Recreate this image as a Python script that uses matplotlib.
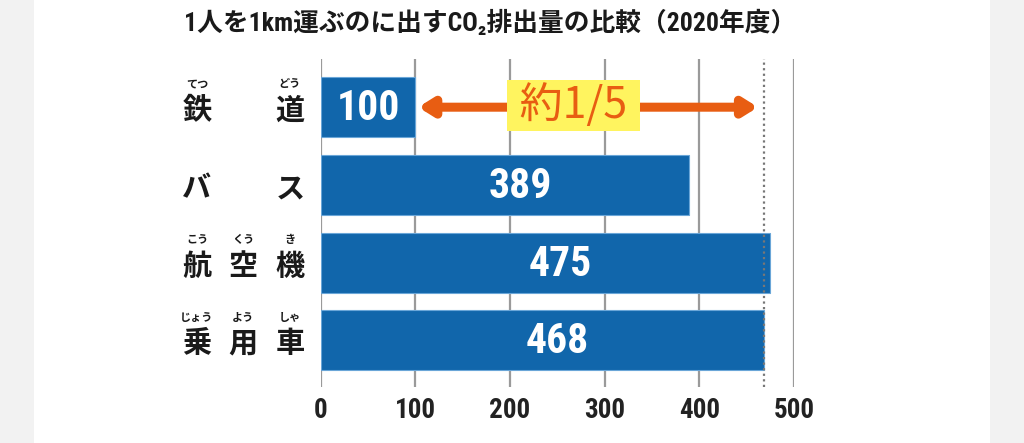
import matplotlib
matplotlib.use("Agg")
import matplotlib.pyplot as plt
from matplotlib.patches import Rectangle
import matplotlib.transforms as mtransforms

# ---- data ----
categories = ["鉄道", "バス", "航空機", "乗用車"]
values = [100, 389, 475, 468]
label_chars = [["鉄", "", "道"], ["バ", "", "ス"], ["航", "空", "機"], ["乗", "用", "車"]]
furigana = [["てつ", "", "どう"], ["", "", ""], ["こう", "くう", "き"], ["じょう", "よう", "しゃ"]]
xticks = [0, 100, 200, 300, 400, 500]
title = "1人を1km運ぶのに出すCO₂排出量の比較（2020年度）"
ratio_text = "約1/5"

NUM_FONT = ["Roboto Condensed", "IBM Plex Sans Condensed", "DejaVu Sans"]
JP_FONT = ["Noto Sans CJK JP", "DejaVu Sans"]
MIX_FONT = ["Roboto Condensed", "IBM Plex Sans Condensed", "Noto Sans CJK JP", "DejaVu Sans"]

W, H = 1024, 443
fig = plt.figure(figsize=(W / 100, H / 100), dpi=100)
fig.patch.set_facecolor("#f2f2f2")
fig.patches.append(Rectangle((34 / W, 0), (990 - 34) / W, 1, transform=fig.transFigure,
                             facecolor="white", edgecolor="none", zorder=-10))

ax_l, ax_r = 320.7, 794
ax_t, ax_b = 59, 387
ax = fig.add_axes([ax_l / W, 1 - ax_b / H, (ax_r - ax_l) / W, (ax_b - ax_t) / H])
ax.set_zorder(2)
ax.set_facecolor("none")
ax.set_xlim(0, 500)
ax.set_ylim(3.6, -0.62)
for s in ax.spines.values():
    s.set_visible(False)

for t in xticks:
    ax.axvline(t, color="#9a9a9a", lw=1.6, zorder=1)

ypos = list(range(len(categories)))
ax.barh(ypos, values, height=0.77, color="#1166ab", edgecolor="#6aa6d8",
        linewidth=0.8, zorder=3)

# dotted reference line at 乗用車 value
ax.axvline(values[3], color="#777777", lw=1.6, ls=(0, (1, 1.5)), zorder=4)

ax.set_yticks([])
ax.set_xticks(xticks)
ax.set_xticklabels([str(t) for t in xticks], fontfamily=NUM_FONT, fontsize=19.5,
                   fontweight="bold", color="#222222")
ax.tick_params(axis="x", length=0, pad=7)

# value labels
for y, v in zip(ypos, values):
    xoff = 0 if v < 200 else 16
    ax.text(v / 2 + xoff, y + 0.02, str(v), ha="center", va="center", color="white",
            fontfamily=NUM_FONT, fontsize=30, fontweight="bold", zorder=5)

# category labels with furigana
bt = mtransforms.blended_transform_factory(fig.transFigure, ax.transData)
col_x = [197, 243, 290]
for y, chars, rubies in zip(ypos, label_chars, furigana):
    for cx, ch, rb in zip(col_x, chars, rubies):
        if ch:
            fig.text(cx / W, y + 0.04, ch, transform=bt, ha="center", va="center",
                     fontfamily=JP_FONT, fontsize=21, fontweight="bold", color="#1a1a1a")
        if rb:
            fig.text(cx / W, y - 0.30, rb, transform=bt, ha="center", va="center",
                     fontfamily=JP_FONT, fontsize=8, fontweight="bold", color="#1a1a1a")

# ratio arrow and label
ax.annotate("", xy=(103, 0), xytext=(462, 0), zorder=5,
            arrowprops=dict(arrowstyle="<|-|>,head_length=0.8,head_width=0.5",
                            color="#e85d12", lw=6.5, shrinkA=0, shrinkB=0))
ax.text(267, -0.02, " " + ratio_text + " ", ha="center", va="center", color="#e85d12",
        fontfamily=JP_FONT, fontsize=31, zorder=6,
        bbox=dict(boxstyle="square,pad=0.08", facecolor="#fff45f", edgecolor="none"))

fig.text(490 / W, 1 - 23 / H, title, ha="center", va="center",
         fontfamily=MIX_FONT, fontsize=18.5, fontweight="bold", color="#1a1a1a")

fig.savefig("out.png", dpi=100, facecolor=fig.get_facecolor())
